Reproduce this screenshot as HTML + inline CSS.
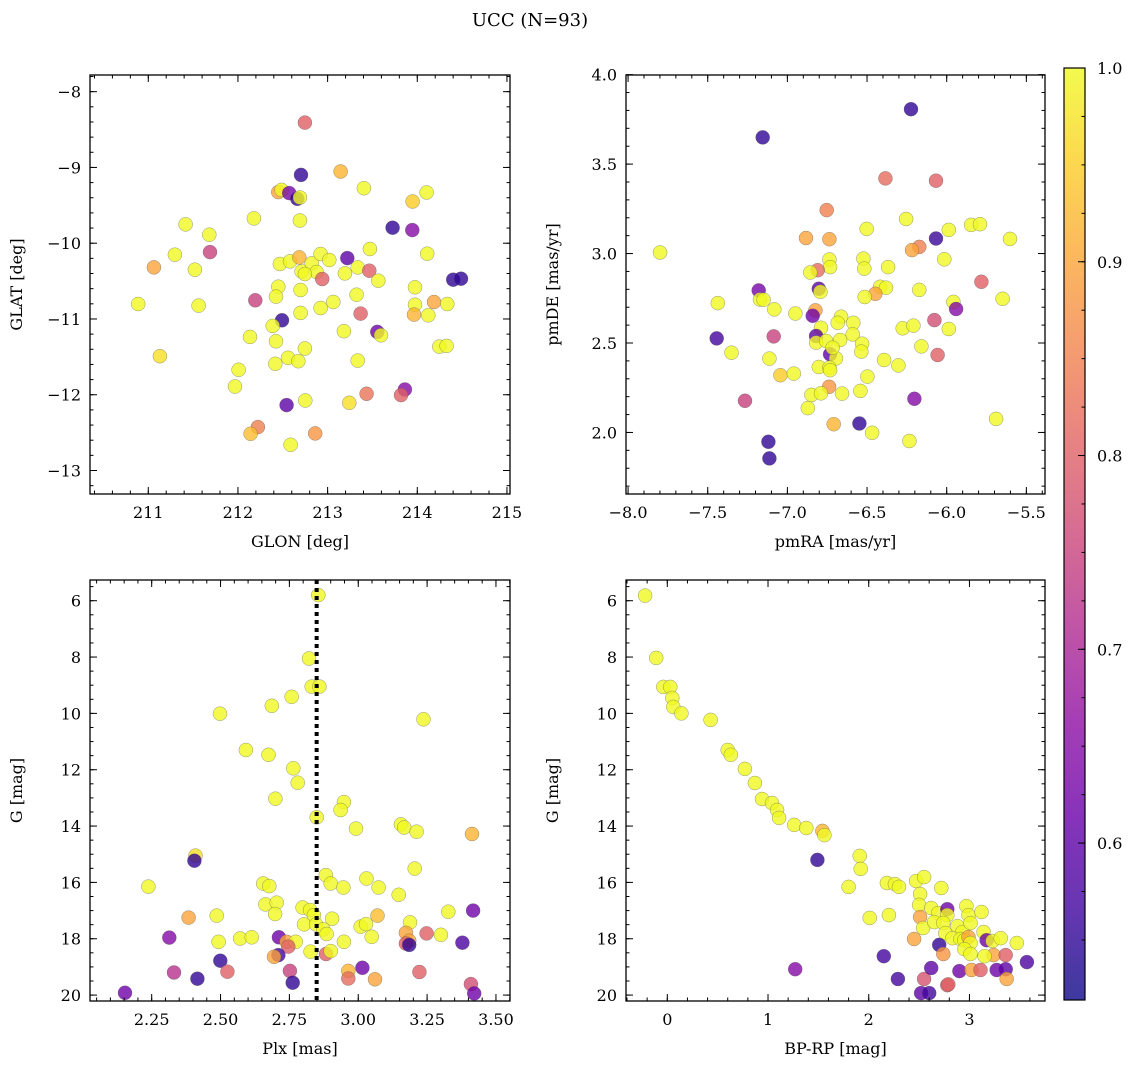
<!DOCTYPE html>
<html><head><meta charset="utf-8"><style>
body{margin:0;background:#fff}
svg{display:block;font-family:"DejaVu Serif","Liberation Serif",serif}
</style></head><body>
<svg id="fig" width="1136" height="1068" viewBox="0 0 1136 1068" xmlns="http://www.w3.org/2000/svg">
<text x="530" y="26" font-size="18" text-anchor="middle">UCC (N=93)</text>
</svg>
<script>
// Panel 1: GLON vs GLAT
const glonX=[212.747,212.703,213.145,212.45,212.487,212.572,212.662,212.691,213.405,213.948,214.104,211.416,211.68,211.297,211.688,211.063,211.52,210.888,211.561,211.13,212.178,212.691,213.725,213.944,213.472,214.111,213.219,212.468,212.58,212.684,212.71,212.822,212.922,213.019,212.877,212.747,212.94,213.193,213.335,213.465,213.565,214.401,214.487,213.974,212.45,212.424,212.699,212.193,213.323,212.922,213.063,212.699,213.368,213.974,213.963,214.123,214.186,214.335,212.491,212.387,213.182,213.554,213.595,212.134,212.424,212.747,214.245,214.327,212.558,212.416,212.673,213.335,212.007,211.967,212.543,212.751,213.242,213.435,213.862,213.818,212.223,212.141,212.862,212.587];
const glatY=[-8.408,-9.098,-9.054,-9.326,-9.296,-9.339,-9.414,-9.397,-9.274,-9.449,-9.331,-9.752,-9.888,-10.152,-10.117,-10.319,-10.35,-10.802,-10.824,-11.491,-9.673,-9.7,-9.796,-9.827,-10.077,-10.139,-10.196,-10.275,-10.24,-10.187,-10.372,-10.266,-10.143,-10.222,-10.38,-10.407,-10.473,-10.398,-10.319,-10.363,-10.495,-10.481,-10.468,-10.582,-10.574,-10.705,-10.617,-10.754,-10.679,-10.855,-10.776,-10.92,-10.929,-10.811,-10.942,-10.951,-10.776,-10.802,-11.017,-11.092,-11.162,-11.171,-11.215,-11.237,-11.294,-11.39,-11.364,-11.355,-11.513,-11.592,-11.557,-11.549,-11.671,-11.891,-12.137,-12.076,-12.106,-11.988,-11.931,-12.005,-12.427,-12.515,-12.51,-12.66];
const glonC=[0.8,0.55,0.92,0.9,1,0.63,0.55,1,1,0.95,1,1,1,1,0.75,0.9,1,1,1,0.97,1,1,0.55,0.65,1,1,0.6,1,1,0.92,1,1,1,1,1,1,0.8,1,1,0.8,1,0.55,0.55,1,1,1,1,0.75,1,1,1,1,0.8,1,0.92,1,0.9,1,0.55,1,1,0.62,1,1,1,1,1,1,1,1,1,1,1,1,0.6,1,0.97,0.83,0.65,0.8,0.85,0.93,0.88,1];
// Panel 2: pmRA vs pmDE
const pmraX=[-6.224,-7.155,-6.385,-6.067,-6.753,-6.255,-6.502,-5.987,-5.847,-5.791,-5.603,-6.067,-6.883,-6.736,-6.172,-6.218,-7.799,-6.015,-6.736,-6.732,-6.523,-6.517,-6.368,-6.81,-6.856,-5.782,-7.18,-7.172,-7.149,-6.803,-6.793,-6.172,-6.418,-6.381,-6.448,-6.515,-7.437,-7.082,-6.95,-5.958,-5.941,-5.649,-6.824,-6.841,-6.663,-6.684,-6.586,-6.077,-6.276,-6.209,-5.987,-6.789,-7.444,-7.086,-6.82,-6.82,-6.757,-6.669,-6.59,-6.531,-6.536,-6.732,-6.695,-6.716,-6.159,-6.057,-7.351,-7.113,-6.803,-6.736,-6.732,-6.393,-6.303,-7.044,-6.96,-6.498,-6.738,-6.849,-6.789,-6.657,-6.542,-6.203,-7.266,-6.872,-5.69,-6.709,-6.548,-6.468,-6.234,-7.119,-7.113];
const pmdeY=[3.807,3.649,3.42,3.407,3.243,3.193,3.138,3.132,3.16,3.164,3.082,3.084,3.087,3.08,3.037,3.019,3.006,2.968,2.967,2.924,2.972,2.916,2.924,2.907,2.894,2.842,2.794,2.743,2.742,2.803,2.786,2.797,2.814,2.809,2.775,2.757,2.723,2.688,2.665,2.73,2.69,2.747,2.682,2.652,2.647,2.613,2.613,2.628,2.582,2.597,2.578,2.585,2.526,2.537,2.539,2.502,2.511,2.517,2.548,2.496,2.452,2.437,2.414,2.474,2.481,2.433,2.446,2.413,2.366,2.362,2.348,2.405,2.375,2.32,2.329,2.312,2.255,2.21,2.219,2.217,2.232,2.188,2.177,2.136,2.076,2.046,2.05,1.998,1.952,1.948,1.855];
const pmC=[0.55,0.55,0.82,0.8,0.85,1,1,1,1,1,1,0.56,0.9,0.9,0.85,0.9,1,1,1,1,1,1,1,0.82,1,0.8,0.63,1,1,0.6,1,1,1,1,0.9,1,1,1,1,1,0.65,1,0.9,0.62,1,1,1,0.77,1,1,1,1,0.57,0.75,0.6,1,1,1,1,1,1,0.6,1,1,1,0.8,1,1,1,1,1,1,1,0.95,1,1,0.88,1,1,1,1,0.65,0.75,1,1,0.92,0.55,1,1,0.55,0.55];
// Panel 3: Plx vs G
const plxX=[2.855,2.821,2.831,2.859,2.758,2.686,2.498,3.237,2.592,2.674,2.764,2.78,2.699,2.948,2.936,2.849,2.992,3.155,3.167,3.212,3.413,2.409,2.405,3.205,2.238,2.655,2.677,2.882,2.9,2.946,3.03,3.074,3.147,2.663,2.704,2.698,2.798,2.825,2.839,2.905,2.803,2.847,2.873,2.885,3.07,3.009,3.028,3.049,3.188,3.327,3.417,2.384,2.486,2.314,2.493,2.571,2.613,2.712,2.74,2.773,2.746,2.948,3.173,3.185,3.173,3.185,3.248,3.3,3.378,2.71,2.694,2.827,2.883,2.9,2.499,2.331,2.416,2.525,2.752,2.762,2.964,2.964,3.015,3.061,3.222,3.409,3.421,2.153];
const plxG=[5.8,8.05,9.05,9.05,9.41,9.73,10.01,10.21,11.3,11.47,11.95,12.46,13.03,13.15,13.43,13.69,14.09,13.94,14.05,14.2,14.28,15.05,15.23,15.51,16.15,16.04,16.13,15.74,16.04,16.18,15.86,16.18,16.44,16.78,16.72,17.12,16.89,16.98,17.16,17.29,17.49,17.49,17.67,17.83,17.18,17.57,17.48,17.93,17.42,17.04,17.0,17.25,17.18,17.96,18.11,17.99,17.95,17.95,18.11,18.11,18.28,18.11,17.79,18.07,18.17,18.22,17.81,17.86,18.14,18.58,18.64,18.46,18.54,18.44,18.78,19.2,19.42,19.17,19.14,19.56,19.14,19.41,19.03,19.44,19.18,19.61,19.94,19.92];
const plxC=[1,1,1,1,1,1,1,1,1,1,1,1,1,1,1,1,1,1,1,1,0.92,0.97,0.55,1,1,1,1,1,1,1,1,1,1,1,1,1,1,1,1,1,1,1,1,1,0.93,1,1,1,1,1,0.62,0.9,1,0.65,1,1,1,0.62,0.9,1,0.8,1,0.9,0.9,0.8,0.55,0.8,1,0.58,0.57,0.9,1,0.8,1,0.55,0.72,0.55,0.8,0.75,0.55,0.92,0.82,0.62,0.9,0.8,0.77,0.62,0.62];
// Panel 4: BP-RP vs G
const bprpX=[-0.22,-0.11,-0.04,0.03,0.05,0.06,0.14,0.43,0.6,0.63,0.77,0.87,0.94,1.04,1.09,1.11,1.26,1.38,1.54,1.56,1.49,1.91,1.92,1.8,2.18,2.26,2.3,2.47,2.55,2.72,2.01,2.2,2.51,2.5,2.51,2.62,2.69,2.78,2.97,2.99,3.12,2.78,2.54,2.65,2.74,2.88,2.93,3.01,3.14,2.76,2.45,2.7,2.83,2.91,2.95,2.99,3.01,3.17,3.23,3.31,3.47,2.15,2.74,2.95,3.01,3.24,3.15,3.36,1.27,2.29,2.55,2.62,2.9,3.02,3.11,3.27,3.36,3.37,2.78,2.79,2.52,2.6,3.57];
const bprpG=[5.82,8.03,9.06,9.06,9.45,9.77,10.0,10.23,11.3,11.47,11.97,12.47,13.04,13.18,13.43,13.71,13.96,14.07,14.17,14.32,15.2,15.06,15.52,16.16,16.02,16.06,16.16,15.95,15.81,16.2,17.26,17.16,16.41,16.8,17.23,16.91,17.09,16.95,16.84,17.16,17.05,17.16,17.62,17.41,17.44,17.55,17.76,17.44,17.76,17.8,18.01,18.22,17.98,18.01,18.05,17.94,18.15,18.05,18.08,17.98,18.15,18.62,18.54,18.37,18.54,18.58,18.62,18.58,19.08,19.43,19.43,19.04,19.15,19.11,19.11,19.11,19.08,19.43,19.65,19.62,19.93,19.93,18.83];
const bprpC=[1,1,1,1,1,1,1,1,1,1,1,1,1,1,1,1,1,1,0.92,1,0.55,1,1,1,1,1,1,1,1,1,1,1,1,1,0.9,1,1,0.62,1,1,1,1,1,1,1,1,1,1,1,1,0.9,0.55,1,1,1,0.9,1,0.62,1,1,1,0.57,0.88,1,1,0.9,1,0.8,0.65,0.57,0.78,0.6,0.62,0.9,0.8,0.62,0.6,0.9,0.8,0.8,0.6,0.57,0.58];
const cbTicks=[0.6,0.7,0.8,0.9,1.0];
const medPlx=2.849;

const NS="http://www.w3.org/2000/svg";
const svg=document.getElementById('fig');
function mk(tag,attrs,parent){const e=document.createElementNS(NS,tag);for(const k in attrs)e.setAttribute(k,attrs[k]);(parent||svg).appendChild(e);return e;}
const stops=[[13,8,135],[65,4,157],[106,0,168],[143,13,164],[177,42,144],[204,71,120],[225,100,98],[242,132,75],[252,166,54],[252,206,37],[240,249,33]];
const VMIN=0.519,VMAX=1.0;
function plasma(t){t=Math.max(0,Math.min(1,t));const f=t*10,i=Math.min(9,Math.floor(f)),r=f-i;const a=stops[i],b=stops[i+1];return 'rgb('+a.map((v,k)=>Math.round(v+(b[k]-v)*r)).join(',')+')';}
function cmap(v){return plasma((v-VMIN)/(VMAX-VMIN));}
function fmt(v,d){return (v<0?'\u2212':'')+Math.abs(v).toFixed(d);}

function panel(name,box,xd,yd,xt,xm,yt,ym,xdec,ydec,xlabel,ylabel,xs,ys,cs){
  const g=mk('g',{});
  
  
  const sx=v=>box.x0+(v-xd[0])/(xd[1]-xd[0])*(box.x1-box.x0);
  const sy=v=>box.y0+(v-yd[0])/(yd[1]-yd[0])*(box.y1-box.y0);
  const pts=mk('g',{},g);
  
  
  for(let i=0;i<xs.length;i++){
    const c=mk('circle',{cx:sx(xs[i]).toFixed(1),cy:sy(ys[i]).toFixed(1),r:7,fill:cmap(cs[i]),'fill-opacity':0.8,stroke:'#555','stroke-width':0.5,'stroke-opacity':0.6},pts);
    
    
  }
  const ax=mk('g',{stroke:'#000','stroke-width':1},g);
  
  
  const xmin=Math.min(xd[0],xd[1]),xmax=Math.max(xd[0],xd[1]),ymin=Math.min(yd[0],yd[1]),ymax=Math.max(yd[0],yd[1]);
  function ticks(step,lo,hi){const r=[];for(let v=Math.ceil(lo/step-1e-6)*step;v<=hi+1e-9;v+=step)r.push(Math.round(v/step)*step);return r;}
  ticks(xm,xmin,xmax).forEach(v=>{const X=sx(v);mk('line',{x1:X,x2:X,y1:box.y1,y2:box.y1-3.5},ax);mk('line',{x1:X,x2:X,y1:box.y0,y2:box.y0+3.5},ax);});
  ticks(ym,ymin,ymax).forEach(v=>{const Y=sy(v);mk('line',{x1:box.x0,x2:box.x0+3.5,y1:Y,y2:Y},ax);mk('line',{x1:box.x1,x2:box.x1-3.5,y1:Y,y2:Y},ax);});
  xt.forEach(v=>{const X=sx(v);mk('line',{x1:X,x2:X,y1:box.y1,y2:box.y1-7},ax);mk('line',{x1:X,x2:X,y1:box.y0,y2:box.y0+7},ax);
    const t=mk('text',{x:X,y:box.y1+24,'font-size':16,'text-anchor':'middle',stroke:'none'},g);t.textContent=fmt(v,xdec);
    });
  yt.forEach(v=>{const Y=sy(v);mk('line',{x1:box.x0,x2:box.x0+7,y1:Y,y2:Y},ax);mk('line',{x1:box.x1,x2:box.x1-7,y1:Y,y2:Y},ax);
    const t=mk('text',{x:box.x0-9,y:Y+6,'font-size':16,'text-anchor':'end'},g);t.textContent=fmt(v,ydec);
    });
  mk('rect',{x:box.x0,y:box.y0,width:box.x1-box.x0,height:box.y1-box.y0,fill:'none',stroke:'#000','stroke-width':1.3},ax);
  const xl=mk('text',{x:(box.x0+box.x1)/2,y:box.y1+53,'font-size':16,'text-anchor':'middle'},g);xl.textContent=xlabel;
  
  const cyy=(box.y0+box.y1)/2,cxx=box.x0-68;
  const yl=mk('text',{x:cxx,y:cyy,'font-size':16,'text-anchor':'middle',transform:'rotate(-90 '+cxx+' '+cyy+')'},g);yl.textContent=ylabel;
  
  return {sx,sy,g};
}
function range(a,b,s){const r=[];for(let v=a;v<=b+1e-9;v+=s)r.push(Math.round(v*1000)/1000);return r;}

panel('glon-glat-panel',{x0:90,x1:510,y0:75,y1:494},[210.35,215.034],[-7.78,-13.31],range(211,215,1),0.2,range(-13,-8,1),0.2,0,0,'GLON [deg]','GLAT [deg]',glonX,glatY,glonC);
panel('pm-panel',{x0:626,x1:1045,y0:75,y1:494},[-8.013,-5.383],[3.998,1.656],range(-8,-5.5,0.5),0.1,range(2,4,0.5),0.1,1,1,'pmRA [mas/yr]','pmDE [mas/yr]',pmraX,pmdeY,pmC);
const p3=panel('plx-g-panel',{x0:90,x1:510,y0:580,y1:1001},[2.026,3.551],[5.265,20.21],range(2.25,3.5,0.25),0.05,range(6,20,2),0.5,2,0,'Plx [mas]','G [mag]',plxX,plxG,plxC);
panel('cmd-panel',{x0:626,x1:1045,y0:580,y1:1001},[-0.41,3.75],[5.265,20.21],range(0,3,1),0.2,range(6,20,2),0.5,0,0,'BP-RP [mag]','G [mag]',bprpX,bprpG,bprpC);

const ml=mk('line',{x1:p3.sx(medPlx),x2:p3.sx(medPlx),y1:580,y2:1001,stroke:'#000','stroke-width':4,'stroke-dasharray':'4 4'});



const cb=mk('g',{});


const cbY0=68,cbY1=1000,cbX=1064,cbW=21;
const cbs=v=>cbY1-(v-VMIN)/(VMAX-VMIN)*(cbY1-cbY0);
const defs=mk('defs',{},cb);
const lg=mk('linearGradient',{id:'cbg',x1:0,y1:1,x2:0,y2:0},defs);
for(let i=0;i<=20;i++){mk('stop',{offset:i/20,'stop-color':plasma(i/20),'stop-opacity':0.8},lg);}
mk('rect',{x:cbX,y:cbY0,width:cbW,height:cbY1-cbY0,fill:'url(#cbg)',stroke:'#000','stroke-width':1.2},cb);
for(let v=0.55;v<=1.0001;v+=0.025){const Y=cbs(v);mk('line',{x1:cbX+cbW,x2:cbX+cbW-3.5,y1:Y,y2:Y,stroke:'#000'},cb);}
cbTicks.forEach(v=>{const Y=cbs(v);mk('line',{x1:cbX+cbW,x2:cbX+cbW-7,y1:Y,y2:Y,stroke:'#000'},cb);
  const t=mk('text',{x:cbX+cbW+12,y:Y+6,'font-size':16},cb);t.textContent=v.toFixed(1);
  });
</script>
</body></html>
